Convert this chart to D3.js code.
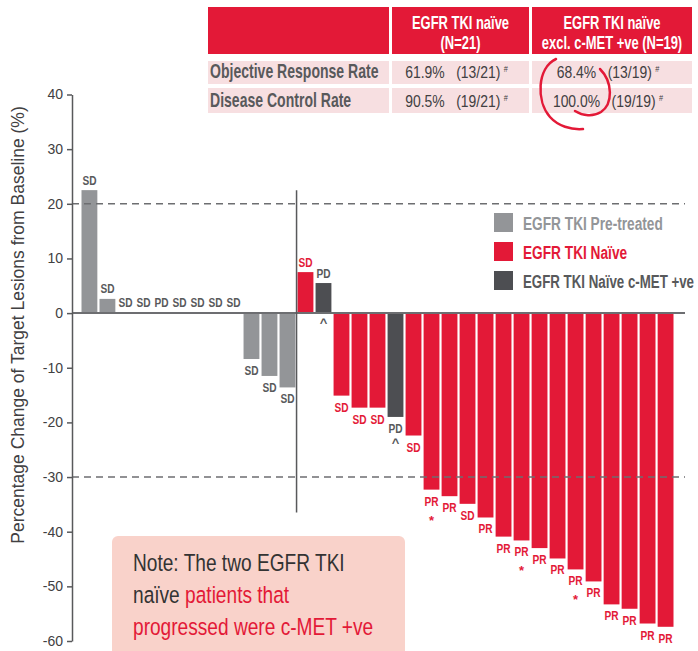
<!DOCTYPE html>
<html>
<head>
<meta charset="utf-8">
<script src="https://cdn.jsdelivr.net/npm/d3@7"></script>
<style>
    body { margin: 0; background: #fff; }
    svg { display: block; }
    text { font-family: "Liberation Sans", Arial, sans-serif; }
</style>
</head>
<body>
<div></div>
<script>
// one entry per patient, left to right
var groups = ["pre", "pre", "pre", "pre", "pre", "pre", "pre", "pre", "pre", "pre", "pre", "pre",
    "naive", "cmet", "naive", "naive", "naive", "cmet", "naive", "naive", "naive", "naive", "naive",
    "naive", "naive", "naive", "naive", "naive", "naive", "naive", "naive", "naive", "naive"];
var values = [22.5, 2.6, 0, 0, 0, 0, 0, 0, 0, -8.4, -11.5, -13.6,
    7.5, 5.5, -15.1, -17.3, -17.3, -19.0, -22.4, -32.3, -33.5, -34.9, -37.4,
    -40.9, -41.6, -43.0, -44.9, -46.9, -49.1, -53.3, -54.1, -56.8, -57.4];
var responses = ["SD", "SD", "SD", "SD", "PD", "SD", "SD", "SD", "SD", "SD", "SD", "SD",
    "SD", "PD", "SD", "SD", "SD", "PD", "SD", "PR", "PR", "SD", "PR",
    "PR", "PR", "PR", "PR", "PR", "PR", "PR", "PR", "PR", "PR"];
var markers = ["", "", "", "", "", "", "", "", "", "", "", "",
    "", "^", "", "", "", "^", "", "*", "", "", "",
    "", "*", "", "", "*", "", "", "", "", ""];

var yTicks = [40, 30, 20, 10, 0, -10, -20, -30, -40, -50, -60];
var refLines = [20, -30];

var legendKeys = ["pre", "naive", "cmet"];
var legendLabels = ["EGFR TKI Pre-treated", "EGFR TKI Naïve", "EGFR TKI Naïve c-MET +ve"];

var colHeaders = [["EGFR TKI naïve", "(N=21)"], ["EGFR TKI naïve", "excl. c-MET +ve (N=19)"]];
var rowLabels = ["Objective Response Rate", "Disease Control Rate"];
var rateAll = [["61.9%", "(13/21)"], ["90.5%", "(19/21)"]];
var rateExcl = [["68.4%", "(13/19)"], ["100.0%", "(19/19)"]];

var noteLines = [
    [["Note: The two EGFR TKI", "dark"]],
    [["naïve ", "dark"], ["patients that", "red"]],
    [["progressed were c-MET +ve", "red"]]
];

var red = "#e31937",
    textGray = "#58595b";
var fill = { pre: "#939598", naive: red, cmet: "#4d4e52" };
var labelFill = { pre: textGray, naive: red, cmet: textGray };
var markerOffset = { "^": 14, "*": 19 };

var width = 698,
    height = 651;

var svg = d3.select("div")
    .append("svg")
    .attr("width", width)
    .attr("height", height);

// no condensed face installed, so squeeze the text horizontally
function ctext(parent, x, y, sx) {
    return parent.append("text")
        .attr("transform", "translate(" + x + "," + y + ") scale(" + sx + ",1)");
}

var x = d3.scaleBand()
    .domain(d3.range(values.length))
    .range([81.5, 673.5])
    .paddingInner(0.12);

var y = d3.scaleLinear()
    .domain([-60, 40])
    .range([641, 94.5]);

// table at the top
var colX = [208, 392, 532],
    colW = [181, 137, 160];

var table = svg.append("g").attr("class", "table");

table.selectAll(".head")
    .data(colX)
    .enter()
    .append("rect")
    .attr("x", function (d) { return d; })
    .attr("y", 7)
    .attr("width", function (d, i) { return colW[i]; })
    .attr("height", 47)
    .style("fill", red);

colHeaders.forEach(function (lines, c) {
    lines.forEach(function (line, k) {
        ctext(table, colX[c + 1] + colW[c + 1] / 2, 28.5 + k * 20, 0.72)
            .attr("text-anchor", "middle")
            .style("fill", "#fff")
            .style("font-weight", "bold")
            .style("font-size", "18px")
            .text(line);
    });
});

var rowY = [61, 88],
    rowH = [23, 25];

rowLabels.forEach(function (label, r) {
    colX.forEach(function (cx, c) {
        table.append("rect")
            .attr("x", cx)
            .attr("y", rowY[r])
            .attr("width", colW[c])
            .attr("height", rowH[r])
            .style("fill", "#f7dfe1");
    });

    var by = rowY[r] + 16.5 + (r ? 2 : 0);

    ctext(table, 210, by, 0.72)
        .style("fill", textGray)
        .style("font-weight", "bold")
        .style("font-size", "19.5px")
        .text(label);

    [rateAll[r], rateExcl[r]].forEach(function (cell, c) {
        var t = ctext(table, colX[c + 1] + colW[c + 1] / 2 - 4, by, 0.82)
            .attr("text-anchor", "middle")
            .style("fill", "#414042")
            .style("font-size", "17px");
        t.append("tspan").text(cell[0]);
        t.append("tspan").attr("dx", 14).text(cell[1]);
        t.append("tspan").attr("dx", 4).attr("dy", -6).style("font-size", "9px").text("#");
    });
});

// hand drawn circle round the excl. c-MET rates
table.append("path")
    .attr("d", "M556,59 C537,68 536,101 550,117 C558,126 571,130 583,129 M600,69 C613,82 613,104 601,112 C593,117 583,116 575,111")
    .style("fill", "none")
    .style("stroke", red)
    .style("stroke-width", 2.5)
    .style("stroke-linecap", "round");

// bars
svg.selectAll(".bar")
    .data(values)
    .enter()
    .append("rect")
    .attr("class", "bar")
    .attr("x", function (d, i) { return x(i); })
    .attr("y", function (d) { return y(Math.max(d, 0)); })
    .attr("width", x.bandwidth())
    .attr("height", function (d) { return Math.abs(y(d) - y(0)); })
    .style("fill", function (d, i) { return fill[groups[i]]; });

// reference lines at +20 / -30
svg.selectAll(".ref")
    .data(refLines)
    .enter()
    .append("line")
    .attr("class", "ref")
    .attr("x1", 72)
    .attr("x2", 685)
    .attr("y1", function (d) { return y(d); })
    .attr("y2", function (d) { return y(d); })
    .style("stroke", "#6d6e71")
    .style("stroke-width", 1.5)
    .style("stroke-dasharray", "7,5");

svg.append("line")
    .attr("x1", 72)
    .attr("x2", 685)
    .attr("y1", y(0))
    .attr("y2", y(0))
    .style("stroke", "#6d6e71")
    .style("stroke-width", 2);

// divider between pre-treated and naive patients
svg.append("line")
    .attr("x1", x(12) - 1)
    .attr("x2", x(12) - 1)
    .attr("y1", y(22.5))
    .attr("y2", y(-36.5))
    .style("stroke", textGray)
    .style("stroke-width", 1.5);

function labelY(i) {
    var d = values[i];
    if (d > 0) return y(d) - 5.5;
    if (d === 0) return y(0) - 6;
    return y(d) + 16;
}

var idx = d3.range(values.length);

svg.selectAll(".resp")
    .data(idx)
    .enter()
    .append("text")
    .attr("class", "resp")
    .attr("transform", function (i) {
        return "translate(" + (x(i) + x.bandwidth() / 2) + "," + labelY(i) + ") scale(0.75,1)";
    })
    .attr("text-anchor", "middle")
    .style("font-weight", "bold")
    .style("font-size", "13.5px")
    .style("fill", function (i) { return labelFill[groups[i]]; })
    .text(function (i) { return responses[i]; });

svg.selectAll(".mark")
    .data(idx.filter(function (i) { return markers[i] !== ""; }))
    .enter()
    .append("text")
    .attr("class", "mark")
    .attr("transform", function (i) {
        var base = values[i] > 0 ? y(0) : labelY(i);
        return "translate(" + (x(i) + x.bandwidth() / 2) + "," + (base + markerOffset[markers[i]]) + ")";
    })
    .attr("text-anchor", "middle")
    .style("font-weight", "bold")
    .style("font-size", "13px")
    .style("fill", function (i) { return labelFill[groups[i]]; })
    .text(function (i) { return markers[i]; });

// y axis
var yAxis = svg.append("g")
    .attr("class", "y axis")
    .attr("transform", "translate(72,0)")
    .call(d3.axisLeft(y)
        .tickValues(yTicks)
        .tickFormat(function (d) { return String(d); })
        .tickSize(5)
        .tickSizeOuter(0)
        .tickPadding(4));

yAxis.select(".domain").style("stroke", textGray).style("stroke-width", 1.5);
yAxis.selectAll(".tick line").style("stroke", textGray).style("stroke-width", 1.5);
yAxis.selectAll(".tick text")
    .style("font-family", "'Liberation Sans', Arial, sans-serif")
    .style("font-size", "14px")
    .style("fill", "#414042");

svg.append("text")
    .attr("transform", "translate(24,325) rotate(-90)")
    .attr("text-anchor", "middle")
    .style("font-size", "17.5px")
    .style("fill", "#414042")
    .text("Percentage Change of Target Lesions from Baseline (%)");

// legend
var legendScale = 0.72;

var legend = svg.selectAll(".legend")
    .data(legendKeys)
    .enter()
    .append("g")
    .attr("class", "legend")
    .attr("transform", function (d, i) { return "translate(494," + (213 + i * 29) + ")"; });

legend.append("rect")
    .attr("width", 19)
    .attr("height", 19)
    .style("fill", function (d) { return fill[d]; });

legend.each(function (d, i) {
    var t = ctext(d3.select(this), 29, 17, legendScale)
        .style("font-weight", "bold")
        .style("font-size", "19px")
        .style("fill", d === "pre" ? fill.pre : labelFill[d])
        .text(legendLabels[i]);
    // keep the longest entry inside the page
    var room = (width - 4 - 494 - 29) / legendScale;
    if (t.node().getComputedTextLength() > room) {
        t.attr("textLength", room).attr("lengthAdjust", "spacingAndGlyphs");
    }
});

// note box
svg.append("rect")
    .attr("x", 112)
    .attr("y", 536)
    .attr("width", 293)
    .attr("height", 130)
    .attr("rx", 6)
    .style("fill", "#f9d2ca");

noteLines.forEach(function (parts, k) {
    var t = ctext(svg, 133, 571 + k * 32, 0.78)
        .style("font-size", "24.5px");
    parts.forEach(function (p) {
        t.append("tspan")
            .style("fill", p[1] === "red" ? red : "#333333")
            .text(p[0]);
    });
});
</script>
</body>
</html>
